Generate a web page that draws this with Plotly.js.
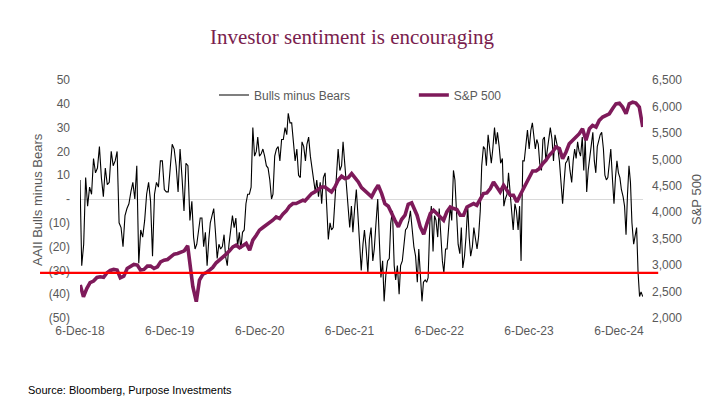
<!DOCTYPE html>
<html><head><meta charset="utf-8">
<script src="https://cdn.plot.ly/plotly-3.0.1.min.js"></script>
<style>html,body{margin:0;padding:0;background:#fff;} #chart{width:715px;height:416px;}</style>
</head><body><div id="chart"></div>
<script>
// ---- Data: AAII Bulls minus Bears (weekly readings, split into five stretches) ----
const bbSegStart = ['2018-12-06','2020-03-12','2021-06-10','2022-09-08','2023-12-14'];
const bbSegEnd   = ['2020-03-05','2021-06-03','2022-09-01','2023-12-07','2025-03-13'];
const bb1 = [8,-28,-19,9,-3,5,2,17,11,13,22,9,1,13,6,7,20,14,16,20,-10,-12,-20,-7,-4,-2,3,7,0,14,-27,-13,-16,-9,2,7,-1,-24,2,7,5,16,16,4,3,3,13,23,21,14,3,21,9,-5,15,14,-9,-1];
const bb2 = [-16,-21,-19,-12,-8,-8,-20,-14,-28,-17,-10,-7,-4,-14,-25,-19,-21,-20,-15,-24,-28,-19,-13,-7,-12,-8,-20,-14,-21,-14,-13,-2,2,2,5,30,18,20,26,18,19,21,18,14,13,8,0,2,18,21,22,16,25,25,30,27,36,32,32,25,16,21,10,9,24,22];
const bb3 = [16,23,26,18,14,9,3,8,1,7,-2,9,11,-2,-17,-10,-13,-12,1,15,21,12,14,24,14,6,-5,-12,-3,-14,-4,4,-6,-16,-30,-19,-13,-21,-31,-17,-12,-26,-21,-10,0,-16,-33,-26,-43,-32,-26,-25,-10,-5,-28,-34,-28,-40,-28,-26,-19,-13,-12,-9,-5,-14,-20,-24];
const bb4 = [-35,-21,-34,-43,-35,-34,-35,-33,-10,-3,-22,-7,-9,-16,-4,-19,-26,-31,-21,-21,-9,-3,-9,12,8,-10,-19,-23,-12,-29,-24,-16,-3,-16,-24,-20,-12,-17,-21,-16,-5,14,22,21,14,27,21,15,21,30,23,28,22,15,17,-3,0,2,11,1,-7,-13,-2,-5,-13,-3,-26,16,16,22,29,21];
const bb5 = [29,32,25,21,25,23,15,12,25,26,16,21,26,30,25,16,27,24,21,16,8,-2,7,15,16,18,12,7,16,21,17,24,20,18,26,12,25,3,12,18,24,28,16,11,22,25,27,28,21,10,8,9,15,21,8,-2,9,16,11,9,4,1,-3,-15,2,14,7,-10,-19,-16,-12,-31,-41,-39,-41];

// ---- Data: S&P 500 (roughly bi-weekly readings, five stretches) ----
const spxSegStart = ['2018-12-07','2020-02-25','2021-06-08','2022-09-07','2023-12-08'];
const spxSegEnd   = ['2020-02-17','2021-05-31','2022-08-30','2023-11-28','2025-03-13'];
const spx1 = [2623,2403,2560,2667,2698,2767,2780,2770,2855,2900,2918,2906,2760,2790,2937,2981,3013,3000,2906,2918,2981,2981,2937,2969,3063,3094,3107,3157,3208,3220,3252,3270,3365];
const spx2 = [3050,2591,2308,2717,2830,2855,2906,2956,3044,3094,3138,3208,3270,3346,3378,3327,3365,3409,3283,3472,3566,3661,3711,3755,3799,3849,3912,3881,3962,4025,4113,4164,4164,4201,4227];
const spx3 = [4214,4277,4352,4384,4428,4478,4478,4434,4384,4478,4604,4680,4636,4654,4730,4654,4573,4466,4403,4352,4290,4415,4510,4352,4164,4113,3975,3849,3723,3862,3944,4151,4176,4025];
const spx4 = [3944,3723,3585,3786,3975,4038,3975,3900,3849,4006,4100,4069,4050,3944,3944,4100,4132,4164,4132,4258,4352,4365,4447,4573,4478,4384,4510,4415,4321,4321,4195,4321,4447,4541];
const spx5 = [4667,4780,4780,4824,4919,4981,5076,5139,5233,5202,5013,5139,5296,5359,5422,5485,5579,5359,5579,5642,5611,5736,5800,5831,5862,5956,6050,6063,5988,5862,6050,6082,6063,5988,5611];

// ---- Axis labels / constants ----
const xTickVals = ['2018-12-06','2019-12-06','2020-12-06','2021-12-06','2022-12-06','2023-12-06','2024-12-06'];
const xTickText = ['6-Dec-18','6-Dec-19','6-Dec-20','6-Dec-21','6-Dec-22','6-Dec-23','6-Dec-24'];
const yTickVals = [-50,-40,-30,-20,-10,0,10,20,30,40,50];
const yTickText = ['(50)','(40)','(30)','(20)','(10)','-','10','20','30','40','50'];
const threshold = -31;

function spread(start, end, n) {
  const a = Date.parse(start), b = Date.parse(end), out = [];
  for (let i = 0; i < n; i++) out.push(new Date(a + (b - a) * i / (n - 1)).toISOString().slice(0, 10));
  return out;
}
function build(starts, ends, segs) {
  let xs = [], ys = [];
  segs.forEach((s, i) => { xs = xs.concat(spread(starts[i], ends[i], s.length)); ys = ys.concat(s); });
  return {xs, ys};
}
const bb = build(bbSegStart, bbSegEnd, [bb1, bb2, bb3, bb4, bb5]);
const spx = build(spxSegStart, spxSegEnd, [spx1, spx2, spx3, spx4, spx5]);

const FONT = 'Liberation Sans, Arial, sans-serif';
const GREY = '#595959';
const PURPLE = '#7E1A5A';

const traces = [
  {x: bb.xs, y: bb.ys, type: 'scatter', mode: 'lines', name: 'Bulls minus Bears',
   line: {color: '#000000', width: 1.1}, yaxis: 'y', legend: 'legend', hoverinfo: 'skip'},
  {x: spx.xs, y: spx.ys, type: 'scatter', mode: 'lines', name: 'S&P 500',
   line: {color: PURPLE, width: 3.6}, yaxis: 'y2', legend: 'legend2', hoverinfo: 'skip'}
];

const layout = {
  width: 715, height: 416,
  margin: {l: 80, r: 72, t: 80, b: 98},
  paper_bgcolor: '#ffffff', plot_bgcolor: 'rgba(0,0,0,0)',
  font: {family: FONT, color: GREY, size: 12},
  title: {text: 'Investor sentiment is encouraging', x: 0.4923, xref: 'container', xanchor: 'center',
          y: 0.911, yref: 'container', yanchor: 'middle',
          font: {family: 'Liberation Serif, Times New Roman, serif', size: 21, color: '#7A1E4E'}},
  xaxis: {type: 'date', range: ['2018-12-06', '2025-03-14'], tickmode: 'array', tickvals: xTickVals, ticktext: xTickText,
          showgrid: false, zeroline: false, showline: false, ticks: '', ticklabelstandoff: 4,
          tickfont: {family: FONT, size: 12, color: GREY}},
  yaxis: {range: [-50, 50], tickmode: 'array', tickvals: yTickVals, ticktext: yTickText,
          showgrid: false, zeroline: true, zerolinecolor: '#D9D9D9', zerolinewidth: 1, showline: false,
          ticks: '', ticklabelstandoff: 9, tickfont: {family: FONT, size: 12, color: GREY}},
  yaxis2: {range: [2000, 6500], overlaying: 'y', side: 'right', dtick: 500, tick0: 2000, tickformat: ',',
           showgrid: false, zeroline: false, showline: false, ticks: '', ticklabelstandoff: 8,
           tickfont: {family: FONT, size: 12, color: GREY}},
  legend: {x: 0.238, y: 0.937, xanchor: 'left', yanchor: 'middle', orientation: 'h', bgcolor: 'rgba(0,0,0,0)',
           font: {family: FONT, size: 12, color: GREY}},
  legend2: {x: 0.593, y: 0.937, xanchor: 'left', yanchor: 'middle', orientation: 'h', bgcolor: 'rgba(0,0,0,0)',
            font: {family: FONT, size: 12, color: GREY}},
  showlegend: true,
  shapes: [{type: 'line', xref: 'paper', yref: 'y', x0: -0.071, x1: 1.027, y0: threshold, y1: threshold,
            line: {color: '#FF0000', width: 2.2}, layer: 'above'}],
  annotations: [
    {text: 'AAII Bulls minus Bears', xref: 'paper', yref: 'paper', x: -0.0764, y: 0.5, textangle: -90,
     showarrow: false, xanchor: 'center', yanchor: 'middle', font: {family: FONT, size: 13, color: GREY}},
    {text: 'S&P 500', xref: 'paper', yref: 'paper', x: 1.0941, y: 0.5, textangle: -90,
     showarrow: false, xanchor: 'center', yanchor: 'middle', font: {family: FONT, size: 13, color: GREY}},
    {text: 'Source: Bloomberg, Purpose Investments', xref: 'paper', yref: 'paper', x: -0.0959, y: -0.3025,
     showarrow: false, xanchor: 'left', yanchor: 'middle', font: {family: FONT, size: 11, color: '#000000'}}
  ]
};

Plotly.newPlot('chart', traces, layout, {displayModeBar: false, staticPlot: true});
</script>
</body></html>
